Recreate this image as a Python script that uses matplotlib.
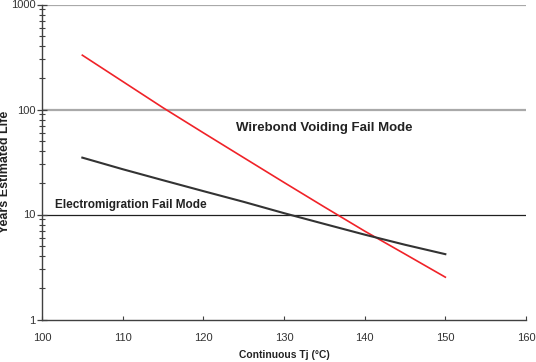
import matplotlib
matplotlib.use("Agg")
import matplotlib.pyplot as plt
from matplotlib.ticker import LogLocator, FixedLocator, NullFormatter

# Data
temps = [105, 110, 115, 120, 125, 130, 135, 140, 145, 150]
wirebond_life = [329, 185, 104, 60, 34.8, 20.2, 11.8, 6.95, 4.2, 2.53]
electromig_life = [34.8, 27.0, 21.2, 16.7, 13.2, 10.3, 8.13, 6.43, 5.15, 4.19]

x_ticks = [100, 110, 120, 130, 140, 150, 160]
y_ticks = [1, 10, 100, 1000]
y_tick_labels = ["1", "10", "100", "1000"]
grid_levels = [10, 100, 1000]
grid_colors = ["#202020", "#a9a9a9", "#a9a9a9"]
grid_widths = [0.9, 1.6, 1.6]

plt.rcParams['font.family'] = ['Liberation Sans', 'DejaVu Sans']

fig = plt.figure(figsize=(5.36, 3.62), dpi=100)
ax = fig.add_axes([42/536, 1 - 319.5/362, (526 - 42)/536, (319.5 - 4.5)/362])

for lvl, c, w in zip(grid_levels, grid_colors, grid_widths):
    ax.axhline(lvl, color=c, lw=w, zorder=1)

ax.plot(temps, wirebond_life, color="#f02228", lw=1.2, zorder=3)
ax.plot(temps, electromig_life, color="#333333", lw=1.5, zorder=3)

ax.set_yscale("log")
ax.set_xlim(100, 160)
ax.set_ylim(1, 1000)
ax.set_xticks(x_ticks)
ax.set_xticklabels([str(t) for t in x_ticks])
ax.yaxis.set_major_locator(FixedLocator(y_ticks))
ax.set_yticklabels(y_tick_labels)
ax.yaxis.set_minor_locator(LogLocator(base=10, subs=range(2, 10)))
ax.yaxis.set_minor_formatter(NullFormatter())

axis_col = "#404040"
for s in ["top", "right"]:
    ax.spines[s].set_visible(False)
for s in ["left", "bottom"]:
    ax.spines[s].set_color(axis_col)
    ax.spines[s].set_linewidth(1.0)

ax.tick_params(axis="y", which="major", direction="inout", length=7, width=0.9,
               colors=axis_col, labelsize=8, pad=1)
ax.tick_params(axis="y", which="minor", direction="inout", length=4, width=0.8,
               colors=axis_col)
ax.tick_params(axis="x", which="major", direction="in", length=3, width=0.8,
               colors=axis_col, labelsize=8, pad=10)
for lab in ax.get_xticklabels() + ax.get_yticklabels():
    lab.set_color("#333333")

ax.set_xlabel("Continuous Tj (°C)", fontsize=7.4, fontweight="bold", color="#222222", labelpad=5)
ax.set_ylabel("Years Estimated Life", fontsize=9, fontweight="bold", color="#222222")
ax.yaxis.set_label_coords(-31/484, 0.47)

ax.text(135.0, 66, "Wirebond Voiding Fail Mode", fontsize=9.5, fontweight="bold",
        color="#222222", ha="center", va="center", zorder=4)
ax.text(101.6, 12.25, "Electromigration Fail Mode", fontsize=8.5, fontweight="bold",
        color="#222222", ha="left", va="center", zorder=4)

fig.savefig("out.png", dpi=100)
